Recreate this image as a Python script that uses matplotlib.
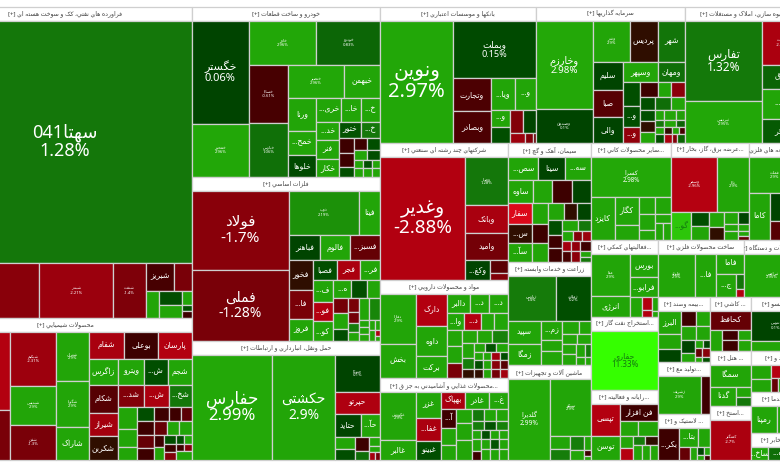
"""Treemap of the Tehran stock market, sectors and tickers coloured by daily change."""

import matplotlib

matplotlib.use("Agg")
import matplotlib.pyplot as plt
from matplotlib.colors import LinearSegmentedColormap, Normalize
from matplotlib.patches import Rectangle

plt.rcParams["font.family"] = ["Noto Sans", "DejaVu Sans"]


def L(share, change, name="", pct=False):
    return {"share": share, "change": change, "name": name, "pct": pct}


def H(share, *kids):
    return {"share": share, "dir": "h", "kids": kids}


def V(share, *kids):
    return {"share": share, "dir": "v", "kids": kids}


def S(share, title, body):
    return {"share": share, "title": title, "body": body}


# each node carries its share of the parent
faravarde = V(1, L(243, 1.28, "سهتا041", True),
    H(55, L(101, -1.7), L(74, -2.21, "شبندر", True), L(33, -1.4, "شنفت", True),
      V(46, H(28, L(28, -0.6, "شبریز"), L(18, -1.3)),
        H(27, L(13, 2.9), V(23, L(14, 0.2), L(13, 2.9)), V(10, L(14, 2.9), L(6, 0.2), L(7, -0.5)
        ) ) ) ) )

shimi = H(1,
    V(72, L(232, -2.9), L(150, -1.3)),
    V(46, L(162, -2.31, "شپکیم", True), L(115, 2.9, "شپدیس", True), L(105, -1.3, "شفن", True)),
    V(32, L(147, 2.9, "شتران", True), L(137, 2.9, "شگویا", True), L(98, 2.9, "شاراک")),
    V(103,
      H(82, L(105, -2.6, "شفام"), L(101, -0.5, "بوعلی"), L(100, -2.9, "پارسان")),
      H(77, L(88, 2.9, "زاگرس"), L(75, 2.9, "ویترو"), L(72, 0.2, "ش..."), L(71, 2.9, "شجم")),
      H(223,
        V(88, L(83, -0.8, "شکام"), L(70, -2.5, "شیراز"), L(70, -0.4, "شکربن")),
        V(218,
          H(65, L(75, -1.5, "شد..."), L(72, -2.7, "ش..."), L(68, 1.3, "شخ...")),
          H(158,
            V(55, L(66, 2.9), L(52, 2.9), L(40, 2.9)),
            V(163,
              H(40, L(51, 0.2), L(42, -0.5), L(35, -0.5), L(32, -0.9)),
              H(107,
                V(51, L(37, -0.5), L(37, -1.0), L(33, -0.5)),
                V(109,
                  H(37, L(37, -1.0), L(35, 2.9), L(37, 2.9)),
                  H(70,
                    V(27, L(35, -0.5), L(35, 2.9)),
                    V(35, L(25, 0.2), L(22, -0.5), L(23, -1.5)),
                    V(47, H(25, L(24, 0.2), L(23, 2.9)), H(20, L(24, -0.5), L(23, -1.5)), L(25, 2.9)
                    ) ) ) ) ) ) ) ) ) )

khodro = H(1,
    V(170, L(308, 0.06, "خگستر", True), L(159, 2.96, "خمحور", True)),
    V(392,
      H(132, L(202, 2.96, "خاور", True), L(190, 0.83, "خودرو", True)),
      H(335,
        V(117, L(173, -0.61, "خساپا", True), L(162, 1.06, "خپارس", True)),
        V(275,
          H(98, L(168, 2.96, "خنصیر", True), L(107, 2.9, "خبهمن")),
          H(237,
            V(85, L(100, 2.9, "ورنا"), L(70, 2.9, "خمح..."), L(67, 0.15, "خلوها")),
            V(190,
              H(72, L(73, 2.9, "خری..."), L(59, 2.9, "خا..."), L(58, 2.9, "خ...")),
              H(165,
                V(67, L(56, 2.9, "خد..."), L(55, 2.9, "فنر"), L(54, 2.9, "خکار")),
                V(123,
                  H(48, L(65, 0.3, "ختور"), L(58, 1.3, "خ...")),
                  H(117,
                    V(46, L(45, -0.5), L(43, -0.5), L(29, 0.2)),
                    V(77,
                      H(35, L(37, -0.5), L(40, 0.2)),
                      H(30, L(37, 2.9), L(40, 0.2)),
                      H(52, V(27, L(25, 2.9), L(27, 2.9)), V(25, L(25, 0.2), L(27, 2.9)), V(25, L(25, 2.9), L(27, 2.9))
                      ) ) ) ) ) ) ) ) ) ) )

felezat = H(1,
    V(97, L(79, -1.7, "فولاد", True), L(70, -1.28, "فملی", True)),
    V(91,
      H(44, L(70, 2.19, "ذوب", True), L(21, 2.9, "فیتا")),
      H(25, L(90, 0.1, "فباهنر"), L(87, 2.9, "فالوم"), L(86, -1.0, "فسبز...")),
      H(80,
        V(70, L(85, -0.4, "فخور"), L(83, -1.3, "فا..."), L(62, 2.9, "فروز")),
        V(198,
          H(58, L(70, 0.2, "فصبا"), L(70, -2.7, "فجر"), L(58, 2.9, "فر...")),
          H(175,
            V(60, L(60, 2.9, "ف..."), L(55, -2.9, "فو..."), L(55, 2.9, "کو...")),
            V(138,
              H(50, L(53, 2.9, "ه..."), L(47, 0.2), L(38, 2.9)),
              H(123,
                V(45, L(43, -1.2), L(45, 2.9), L(35, 0.2)),
                V(32, L(40, -1.3), L(33, -1.2), L(25, 1.5), L(25, 2.9)),
                V(61,
                  H(63, L(30, 2.9), L(31, 1.8)),
                  H(60, V(30, L(20, 2.9), L(20, 2.9), L(20, 2.9)), V(16, L(30, 2.9), L(30, 2.9)), V(15, L(30, 2.9), L(15, -2.7), L(15, 2.9)
                  ) ) ) ) ) ) ) ) ) )

haml = H(1,
    L(240, 2.99, "حفارس", True), L(187, 2.9, "حکشتی", True),
    V(135, L(112, 0.1, "حتوکا", True), L(65, -2.8, "حپرتو"),
      H(70, L(77, 0.1, "حتاید"), L(58, 2.9, "حآ...")),
      H(68, V(60, L(36, 2.9), L(32, 0.2)), V(43, L(41, -0.5), L(27, 1.0)),
        V(32, L(25, 2.9), L(20, 2.9), H(23, L(16, -2.5), L(16, -1.2)
        ) ) ) ) )

banks = H(1, L(218, 2.97, "ونوین", True),
    V(245, L(172, 0.15, "وبملت", True),
      H(192,
        V(110, L(97, -0.7, "وتجارت"), L(95, -0.7, "وبصادر")),
        V(135,
          H(93, L(71, 2.9, "ویا..."), L(62, 2.9, "و...")),
          H(99, V(56, L(50, 2.9, "و..."), L(49, 0.2)),
            V(77, H(67, L(40, -1.5), L(37, 0.1)), H(30, L(44, -2.3), L(23, -1.5), L(10, -1.0)
            ) ) ) ) ) ) )

sarmaye = H(1,
    V(168, L(265, 2.98, "وخارزم", True), L(102, 0.1, "وصندوق", True)),
    V(275,
      H(125, L(110, 2.9, "وغدر", True), L(85, -0.4, "پردیس"), L(80, 1.2, "شهر")),
      H(242,
        V(92, L(83, 0.1, "سلیم"), L(82, -0.8, "صبا"), L(77, 0.1, "والی")),
        V(183,
          H(60, L(103, 2.9, "وسپهر"), L(80, 1.0, "ومهان")),
          H(182,
            V(50, L(70, 0.2), L(63, 0.2, "و..."), L(49, -2.0, "و...")),
            V(133,
              H(45, L(53, -0.5), L(39, 2.9), L(41, -1.8)),
              H(37, L(45, 0.2), L(47, 1.0), L(41, 2.9)),
              H(100,
                V(43, L(33, 0.2), L(33, -0.4), L(34, 2.9)),
                V(90,
                  H(30, L(29, 2.9), L(33, 2.9), L(28, 2.6)),
                  H(21, L(27, 1.3), L(35, 2.9), L(28, 0.8)),
                  H(22, L(29, 2.9), L(23, -0.4), L(20, 2.9), L(18, -0.6)),
                  H(27, L(29, 0.2), L(23, -2.7), L(15, -1.5), L(23, 0.8)
                  ) ) ) ) ) ) ) ) )

amlak = H(1,
    V(227, L(242, 1.32, "تفارس", True), L(125, 2.95, "ثپردیس", True)),
    V(113, L(132, -2.7, "ثاخت", True), L(72, 0.8, "ثرق"), L(92, 2.9, "ثم..."), L(71, 0.5, "وآذر")))

motanavve = H(1, L(85, -2.88, "وغدیر", True),
    V(43, L(144, 1.28, "وصنا", True), L(82, -2.6, "وبانک"), L(77, -1.2, "وامید"),
      H(60, L(72, 0.1, "وکغ..."), V(52, L(35, -0.9), L(17, -1.5)))))

mavad = H(1,
    V(107, L(150, 2.9, "دفارا", True), L(100, 2.9, "بخش")),
    V(93, L(96, -2.9, "دارک"), L(85, 2.9, "داوه"), L(65, 2.9, "برکت")),
    V(180,
      H(56, L(65, 2.9, "دالبر"), L(58, 2.9, "د..."), L(55, 2.9, "د...")),
      H(52, L(50, 2.9, "وا..."), L(50, -2.9, "د..."), L(38, 2.9), L(40, 2.9)),
      H(140,
        V(42, L(45, 2.9), L(50, 2.9), L(45, -1.3)),
        V(138,
          H(38, L(45, 2.9), L(46, 2.9), L(47, 1.6)),
          H(102,
            V(38, L(42, 2.9), L(33, 1.5), L(27, -0.4)),
            V(100,
              H(25, L(33, 2.9), L(32, 0.3), L(35, 2.9)),
              H(25, L(25, 2.9), L(25, 2.9), L(25, -2.4), L(25, 0.2)),
              H(25, L(25, 0.2), L(25, 2.9), L(25, -1.7), L(25, -0.8)),
              H(27, L(25, -0.4), L(25, 2.9), L(25, -1.2), L(25, -2.4)
              ) ) ) ) ) ) )

ghaza = H(1,
    V(107, L(144, 2.9, "غکورش", True), L(58, 2.9, "غالبر")),
    V(75, L(77, 2.9, "غزر"), L(66, -2.7, "غفا..."), L(55, 0.2, "غبینو")),
    V(198,
      H(52, L(71, -2.6, "بهپاک"), L(72, 2.9, "غادر"), L(55, 2.9, "غ...")),
      H(150,
        V(45, L(55, -0.5, "آ..."), L(47, 2.9), L(43, 2.9)),
        V(46, L(40, 2.9), L(46, 2.9), L(58, 2.9)),
        V(107,
          H(35, L(37, 1.3), L(35, 2.9), L(35, 2.9)),
          H(25, L(37, 1.5), L(35, 0.3), L(35, 1.6)),
          H(85,
            V(27, L(25, 2.9), L(35, 2.9), L(25, -0.5)),
            V(80,
              H(25, L(27, 0.2), L(27, 2.9), L(26, 2.9)),
              H(30, L(27, 2.9), L(27, 0.3), L(26, 2.9)),
              H(30, L(27, 2.9), L(27, 2.9), L(26, 2.9)
              ) ) ) ) ) ) )

siman = V(1,
    H(67, L(89, 2.9, "سص..."), L(79, 0.1, "سیتا"), L(75, 2.9, "سه...")),
    H(66, L(73, 2.9, "ساوه"), L(57, 2.9), L(57, -0.5), L(56, 0.1)),
    H(169,
      V(70, L(60, -4.5, "سفار"), L(55, -0.4, "س..."), L(54, 2.9, "سآ...")),
      V(48, L(60, 2.9), L(55, -0.5), L(54, 2.9)),
      V(125,
        H(50, L(45, 2.9), L(40, -0.4), L(40, 0.1)),
        H(119,
          V(40, L(42, 0.2), L(38, -0.5), L(39, -0.5)),
          V(85,
            H(30, L(47, 2.9), L(38, 1.3)),
            H(28, L(33, 2.9), L(27, -1.5), L(25, -2.2)),
            H(61, V(25, L(30, -2.5), L(31, -0.6)), V(28, L(30, -2.0), L(31, -1.8)), V(32, L(30, -0.5), L(16, 2.9), L(15, 1.3)
            ) ) ) ) ) ) )

zeraat = V(1,
    H(139, L(138, 1.4, "زپارس", True), L(103, 0.2, "زملارد", True)),
    H(135,
      V(96, L(70, 2.9, "سپید"), L(62, 2.9, "زمگا")),
      V(60, L(55, 2.9, "زم..."), L(33, 2.9), L(40, 2.9)),
      V(85,
        H(38, L(50, 2.9), L(35, 2.9)),
        H(30, L(43, 2.9), L(42, 2.9)),
        H(62, V(43, L(28, 2.9), L(30, 2.9)), V(25, L(38, 2.9), L(22, 2.9)), V(18, L(38, 1.5), L(22, 2.9)
        ) ) ) ) )

mashin = H(1, L(122, 2.99, "گلدیرا", True),
    V(118, L(165, 2.9, "تیپیکو", True),
      H(68, V(58, L(37, 2.9), L(30, 1.5)), V(40, L(40, 1.5), L(30, 2.9)), V(20, L(40, 2.9), L(15, -0.5), L(12, 2.9)
      ) ) ) )

kani = V(1, L(118, 2.98, "کسرا", True),
    H(126, L(70, 2.9, "کایزد"),
      V(70, L(83, 2.9, "کگار"), L(43, 2.9)),
      V(48, L(50, 2.9), L(48, 2.9), L(28, 2.9)),
      V(47, L(50, 2.9), L(24, 2.9), H(50, L(24, 2.9), L(23, 2.9)))))

bargh = V(1,
    H(161, L(138, -2.96, "وسمر", True), L(95, 2.9, "تابا", True)),
    H(83, L(60, 4.6, "گو..."),
      V(53, L(43, 0.2), L(40, 2.9)),
      V(45, L(45, 2.9), L(38, -0.4)),
      V(73,
        H(35, L(40, 2.9), L(33, 0.1)),
        H(48, V(40, L(22, 2.9), L(26, 2.9)), V(33, L(22, 2.9), L(14, 2.9), L(12, -1.0)
        ) ) ) ) )

felezi = V(1, L(108, 2.9, "فملت", True),
    H(136, L(65, 2.9, "کاما"), V(95, L(81, 0.1, "م"), L(55, -0.8))))

komaki = H(1,
    V(113, L(123, 2.9, "مفا", True), L(60, 2.9, "انرژی")),
    V(83, L(68, 2.9, "بورس"), L(57, 2.9, "فرابو..."),
      H(56, L(37, 2.9), V(28, L(36, -2.9), L(20, -2.9)), V(18, L(38, 2.9), L(18, 2.9)))))

estekhraj = V(1, L(1, 11.33, "حفاری", True))

rayane = V(1,
    H(93, L(85, -2.9, "تپسی"), V(111, L(50, -0.5, "فن افزار"), H(43, L(53, 2.9), L(58, 2.9)))),
    H(70, L(85, 2.9, "توسن"),
      V(38, L(36, 2.9), L(34, -3.0)),
      V(73, H(28, L(36, 1.5), L(37, -0.4)), H(42, L(25, 2.9), L(24, 2.9), L(24, 2.9)))))

sakht = H(1, L(107, 2.9, "فلوله", True), L(60, 2.9, "فا..."),
    V(80, L(53, 2.9, "فاما"), H(62, L(58, 2.9, "ج..."), V(22, L(42, 1.2), L(20, -2.9)))))

dastgah = V(1, L(1, 2.95, "ثپرامس", True))

bime = H(1,
    V(65, L(69, 2.9, "البرز"), L(42, 2.9), L(38, 0.1)),
    V(82,
      H(47, L(42, -0.5), L(40, 2.9)),
      H(40, L(42, 2.9), L(40, 2.9)),
      H(65,
        V(39, L(38, 0.1), L(27, 2.9)),
        V(43, H(23, L(23, 2.9), L(20, 0.1)), H(27, L(21, -1.0), L(22, -1.7)), H(15, L(21, 2.9), L(22, 0.2)
        ) ) ) ) )

kashi = V(1, L(57, -1.0, "کحافظ"),
    H(63, L(33, 2.9), V(45, L(31, -0.5), L(32, -0.5)), V(37, L(31, 2.9), L(32, 2.9))))

tanso = V(1, L(90, 0.1, "نتوس", True), L(30, 2.9))

tolid = H(1, L(124, 2.9, "زشریف", True), L(25, -0.5))

lastik = H(1, L(61, -0.5, "بکر..."),
    V(88, H(55, L(55, 2.9, "بتا..."), L(33, 2.9)),
      H(38, L(31, -1.0), L(21, 2.9), V(20, L(24, 0.1), L(14, 2.9)), V(16, L(24, 2.9), L(14, -0.5)))))

hotel = V(1, L(63, 2.9, "سمگا"),
    H(55, L(65, 2.9, "گدنا"), V(37, L(30, 2.9), L(25, 1.3))))

estekh = V(1, L(1, -2.7, "کمنگنز", True))

ghand = H(1, V(60, L(40, 2.9), L(34, 2.9)),
    V(85, L(37, -3.0), H(37, L(21, -1.0), L(64, 2.9))))

khadama = H(1, L(77, 2.9, "رمپنا"), L(70, 2.9))

mokhaber = H(1, L(52, 2.9, "ساخ..."), L(55, 1.0, "ه..."), L(40, 0.6))

# ticker font sizes in points, anything missing gets DEFAULT_PT
DEFAULT_PT = 5.6
TINY_PT = 3.0
BIG_PT = {"سهتا041": 13, "ونوین": 14.5, "وغدیر": 13.5, "حفارس": 12, "حکشتی": 10, "فولاد": 11,
          "فملی": 10, "خگستر": 8, "تفارس": 8.5, "وبملت": 6.5, "وخارزم": 7, "حفاری": 5.8,
          "گلدیرا": 4.8, "کسرا": 4.5}

SECTOR_HEADER = 13.5
SECTOR_TEXT = "#404040"
BORDER = "#cfcfcf"

# change (%) to colour, read from the tiles whose percentage is printed
CHANGE_STOPS = [-5, -2.9, -1.3, -0.5, 0, 0.15, 1.3, 2.9, 5, 11.33]
CHANGE_COLOURS = ["#e60a1c", "#b20010", "#7a0008", "#3c0000", "#003e00", "#004d00",
                  "#14780a", "#22a608", "#30ce0a", "#35ff00"]
low, high = CHANGE_STOPS[0], CHANGE_STOPS[-1]
change_cmap = LinearSegmentedColormap.from_list(
    "change", [((v - low) / (high - low), c) for v, c in zip(CHANGE_STOPS, CHANGE_COLOURS)])
change_norm = Normalize(low, high)

# first code point of each letter's presentation forms (isolated, final, initial, medial)
FORMS = {"آ": 0xFE81, "ا": 0xFE8D, "د": 0xFEA9, "ذ": 0xFEAB, "ر": 0xFEAD, "ز": 0xFEAF, "و": 0xFEED,
         "ب": 0xFE8F, "ت": 0xFE95, "ث": 0xFE99, "ج": 0xFE9D, "ح": 0xFEA1, "خ": 0xFEA5, "س": 0xFEB1,
         "ش": 0xFEB5, "ص": 0xFEB9, "ض": 0xFEBD, "ط": 0xFEC1, "ظ": 0xFEC5, "ع": 0xFEC9, "غ": 0xFECD,
         "ف": 0xFED1, "ق": 0xFED5, "ل": 0xFEDD, "م": 0xFEE1, "ن": 0xFEE5, "ه": 0xFEE9, "ي": 0xFEF1,
         "پ": 0xFB56, "چ": 0xFB7A, "ک": 0xFB8E, "گ": 0xFB92, "ی": 0xFBFC, "ژ": 0xFB8A}
RIGHT_ONLY = set("آادذرزوژ")


def shape(text):
    """Matplotlib neither joins nor reorders Arabic script, so do it here."""
    out = []
    i = 0
    joined = False
    while i < len(text):
        ch = text[i]
        nxt = text[i + 1] if i + 1 < len(text) else ""
        if ch not in FORMS:
            out.append(ch)
            joined = False
            i += 1
        elif ch == "ل" and nxt == "ا":
            out.append(chr(0xFEFC if joined else 0xFEFB))
            joined = False
            i += 2
        else:
            if ch in RIGHT_ONLY:
                out.append(chr(FORMS[ch] + (1 if joined else 0)))
                joined = False
            else:
                to_next = nxt in FORMS
                form = (1 if joined else 0) + (2 if to_next else 0)
                out.append(chr(FORMS[ch] + form))
                joined = to_next
            i += 1
    # visual order: reverse, then put digit runs back the right way round
    result, run = "", ""
    for ch in reversed(out):
        if ch.isdigit():
            run += ch
        else:
            result += run[::-1] + ch
            run = ""
    return result + run[::-1]


def draw_leaf(ax, node, x, y, w, h):
    colour = change_cmap(change_norm(node["change"]))
    rect = Rectangle((x, y), w, h, facecolor=colour, edgecolor=BORDER, linewidth=0.9)
    ax.add_patch(rect)
    if not node["name"]:
        return
    label = shape(node["name"])
    if node["pct"]:
        label += f"\n{node['change']:g}%"
    size = BIG_PT.get(node["name"], TINY_PT if node["pct"] else DEFAULT_PT)
    ink = "#147a10" if node["change"] > 4 else "white"
    txt = ax.text(x + w / 2, y + h / 2, label, color=ink, fontsize=size, ha="center", va="center",
                  linespacing=1.05, multialignment="center", clip_on=True)
    txt.set_clip_path(rect)


def draw(ax, node, x, y, w, h):
    if "title" in node:
        head = Rectangle((x, y), w, SECTOR_HEADER, facecolor="white", edgecolor=BORDER, linewidth=0.9)
        ax.add_patch(head)
        txt = ax.text(x + w / 2, y + SECTOR_HEADER / 2, "[+] " + shape(node["title"]), color=SECTOR_TEXT,
                      fontsize=4.4, ha="center", va="center", clip_on=True)
        txt.set_clip_path(head)
        draw(ax, node["body"], x, y + SECTOR_HEADER, w, h - SECTOR_HEADER)
    elif "kids" in node:
        total = sum(k["share"] for k in node["kids"])
        for kid in node["kids"]:
            part = kid["share"] / total
            if node["dir"] == "h":
                draw(ax, kid, x, y, w * part, h)
                x += w * part
            else:
                draw(ax, kid, x, y, w, h * part)
                y += h * part
    else:
        draw_leaf(ax, node, x, y, w, h)


market = H(1,
    V(254, S(311, "فراورده هاي نفتي، کک و سوخت هسته اي", faravarde), S(142, "محصولات شيميايي", shimi)),
    V(188, S(170, "خودرو و ساخت قطعات", khodro), S(164, "فلزات اساسي", felezat),
      S(119, "حمل ونقل، انبارداري و ارتباطات", haml)),
    V(420,
      H(136, S(156, "بانکها و موسسات اعتباري", banks), S(149, "سرمايه گذاريها", sarmaye),
        S(115, "انبوه سازي، املاک و مستغلات", amlak)),
      H(317,
        V(128, S(137, "شرکتهاي چند رشته اي صنعتي", motanavve), S(98, "مواد و محصولات دارويي", mavad),
          S(82, "...محصولات غذايي و آشاميدني به جز ق", ghaza)),
        V(83, S(119, "سيمان، آهک و گچ", siman), S(103, "زراعت و خدمات وابسته", zeraat),
          S(95, "ماشين آلات و تجهيزات", mashin)),
        V(209,
          H(97, S(80, "...سایر محصولات کاني", kani), S(78, "...عرضه برق، گاز، بخار", bargh),
            S(51, "استخراج کانه هاي فلزي", felezi)),
          H(220,
            V(67, S(77, "...فعاليتهاي کمکي", komaki), S(73, "...استخراج نفت گاز", estekhraj),
              S(70, "...رايانه و فعاليته", rayane)),
            V(142,
              H(57, S(86, "ساخت محصولات فلزي", sakht), S(56, "ماشين آلات و دستگاه", dastgah)),
              H(163,
                V(52, S(65, "...بيمه وصند", bime), S(52, "...توليد مع", tolid), S(46, "... لاستيک و", lastik)),
                V(41, S(54, "... کاشي", kashi), S(55, "... هتل", hotel), S(54, "...استخ", estekh)),
                V(49, S(54, "...منسو", tanso), S(41, "قند و", ghand), S(41, "...خدما", khadama),
                  S(27, "...مخابر", mokhaber)
                ) ) ) ) ) ) ) )


def main() -> None:
    fig = plt.figure(figsize=(7.8, 4.7), dpi=100)
    ax = fig.add_axes([0, 0, 1, 1])
    ax.set_xlim(0, 780)
    ax.set_ylim(470, 0)
    ax.axis("off")
    draw(ax, market, -62, 7, 862, 453)
    fig.savefig("out.png", dpi=100, facecolor="white")
    plt.close(fig)


if __name__ == "__main__":
    main()
